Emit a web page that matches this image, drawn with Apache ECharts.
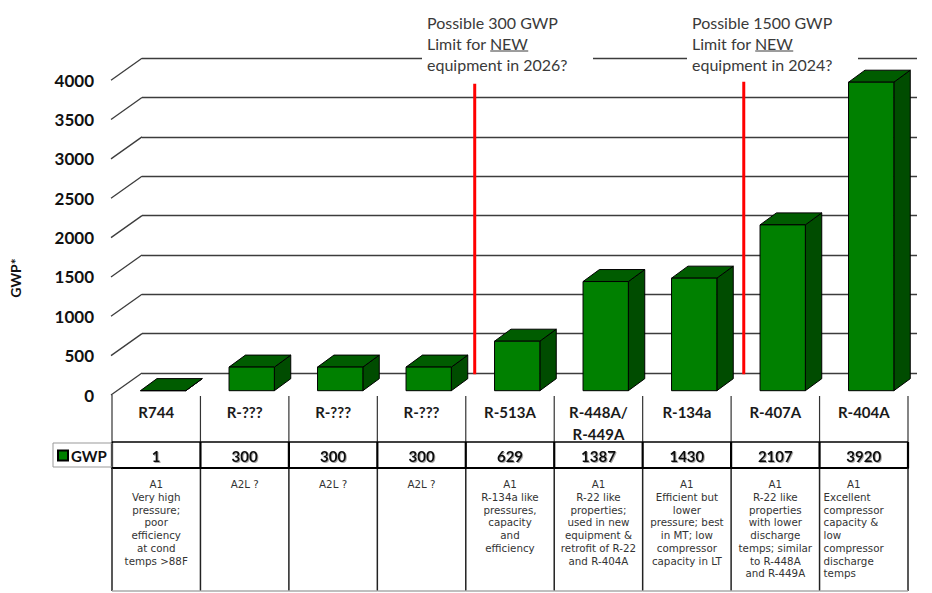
<!DOCTYPE html>
<html><head><meta charset="utf-8">
<script src="https://cdn.jsdelivr.net/npm/echarts@6/dist/echarts.min.js"></script>
<style>html,body{margin:0;padding:0;background:#fff}#c{width:932px;height:593px}</style>
</head><body><div id="c"></div>
<script>
// ---- data ----
const categories = ['R744','R-???','R-???','R-???','R-513A','R-448A/\nR-449A','R-134a','R-407A','R-404A'];
const gwpValues = [1, 300, 300, 300, 629, 1387, 1430, 2107, 3920];
const gwpLabels = ['1','300','300','300','629','1387','1430','2107','3920'];
const notes = [
  'A1\nVery high\npressure;\npoor\nefficiency\nat cond\ntemps >88F',
  'A2L ?',
  'A2L ?',
  'A2L ?',
  'A1\nR-134a like\npressures,\ncapacity\nand\nefficiency',
  'A1\nR-22 like\nproperties;\nused in new\nequipment &\nretrofit of R-22\nand R-404A',
  'A1\nEfficient but\nlower\npressure; best\nin MT; low\ncompressor\ncapacity in LT',
  'A1\nR-22 like\nproperties\nwith lower\ndischarge\ntemps; similar\nto R-448A\nand R-449A',
  'A1\nExcellent\ncompressor\ncapacity &\nlow\ncompressor\ndischarge\ntemps'
];
const yTicks = [0, 500, 1000, 1500, 2000, 2500, 3000, 3500, 4000];
const limitPositions = [3.52, 6.56];      // in category units (between bars)
const limitTopValues = [3900, 3925];
const limitTexts = [
  ['Possible 300 GWP', 'Limit for ', 'NEW', 'equipment in 2026?'],
  ['Possible 1500 GWP', 'Limit for ', 'NEW', 'equipment in 2024?']
];

// ---- styles ----
const GRID_C = '#3c3c3c';
const FRONT = '#008000', TOP = '#005c00', SIDE = '#004c00';
const DEPTH_X = 16.4, DEPTH_Y = -12;
const FLOOR_DX = 31, FLOOR_DY = -22;
const noteFont = 'DejaVu Sans';
const noteSize = 10.3;
const noteLH = 12.7;
const annFont = 'Lato';

const chart = echarts.init(document.getElementById('c'), null, {renderer: 'svg'});

function ln(x1, y1, x2, y2, w, c) {
  return {type: 'line', shape: {x1, y1, x2, y2}, style: {stroke: c, lineWidth: w}};
}

function renderDiag(params, api) {
  const p = api.coord([0, api.value(1)]);
  return ln(p[0], p[1], p[0] + FLOOR_DX, p[1] + FLOOR_DY, 1.3, GRID_C);
}

function renderBar(params, api) {
  const i = api.value(0), v = api.value(1);
  const b = api.coord([i, 0]), t = api.coord([i, v]);
  const w = api.size([1, 0])[0] * 0.512;
  const x0 = b[0] - w / 2, x1 = b[0] + w / 2, yb = b[1], yt = t[1];
  const st = (f) => ({fill: f, stroke: '#000', lineWidth: 1, lineJoin: 'round'});
  return {type: 'group', children: [
    {type: 'polygon', shape: {points: [[x1, yt], [x1 + DEPTH_X, yt + DEPTH_Y], [x1 + DEPTH_X, yb + DEPTH_Y], [x1, yb]]}, style: st(SIDE)},
    {type: 'polygon', shape: {points: [[x0, yt], [x0 + DEPTH_X, yt + DEPTH_Y], [x1 + DEPTH_X, yt + DEPTH_Y], [x1, yt]]}, style: st(TOP)},
    {type: 'rect', shape: {x: x0, y: yt, width: w, height: Math.max(yb - yt, 0.1)}, style: st(FRONT)}
  ]};
}

function renderLimit(params, api) {
  const pos = api.value(0), top = api.value(1);
  const base = Math.floor(pos);
  const bw = api.size([1, 0])[0];
  const x = api.coord([base, 0])[0] + (pos - base) * bw;
  const y0 = api.coord([base, 210])[1], y1 = api.coord([base, top])[1];
  return ln(x, y0, x, y1, 3, '#ff0000');
}

function renderTable(params, api) {
  const i = api.value(0);
  const cs = params.coordSys;
  const xc = api.coord([i, 0])[0];
  const bw = api.size([1, 0])[0];
  const xl = xc - bw / 2, xr = xc + bw / 2;
  const top = cs.y;
  const yCat = top + 47, yG = top + 73, yN = top + 196;
  const ch = [];
  // category row
  if (i === 0) ch.push(ln(xl, top, xl, yCat, 1.2, '#333'));
  ch.push(ln(xr, top + 1, xr, yCat, 1.2, '#333'));
  ch.push({type: 'text', style: {text: categories[i], x: xc, y: top + 5.5, align: 'center', verticalAlign: 'top',
    fontFamily: 'Lato', fontWeight: 'bold', fontSize: 15, lineHeight: 22, fill: '#1a1a1a'}});
  // GWP row
  ch.push(ln(xl, yCat, xr, yCat, 1.4, '#000'));
  ch.push(ln(xl - 1, yG, xr + 1, yG, 2.2, '#000'));
  if (i === 0) ch.push(ln(xl, yCat, xl, yG, 2.2, '#000'));
  ch.push(ln(xr, yCat, xr, yG, 2.2, '#000'));
  ch.push({type: 'text', style: {text: gwpLabels[i], x: xc, y: (yCat + yG) / 2 + 1, align: 'center', verticalAlign: 'middle',
    fontFamily: 'Lato', fontWeight: 'bold', fontSize: 15, fill: '#111',
    textShadowColor: 'rgba(0,0,0,0.35)', textShadowOffsetX: 1, textShadowOffsetY: 1, textShadowBlur: 1}});
  // notes row
  if (i === 0) ch.push(ln(xl, yG, xl, yN, 1.5, '#222'));
  ch.push(ln(xr, yG, xr, yN, 1.5, '#222'));
  ch.push(ln(xl, yN, xr, yN, 1.5, '#aaa'));
  const last = i === categories.length - 1;
  const ns = {fontFamily: noteFont, fontSize: noteSize, lineHeight: noteLH, fill: '#333', verticalAlign: 'top'};
  if (last) {
    const parts = notes[i].split('\n');
    ch.push({type: 'text', style: Object.assign({text: parts[0], x: xc - 10, y: yG + 10, align: 'center'}, ns)});
    ch.push({type: 'text', style: Object.assign({text: parts.slice(1).join('\n'), x: xl + 4, y: yG + 10 + noteLH, align: 'left'}, ns)});
  } else {
    ch.push({type: 'text', style: Object.assign({text: notes[i], x: xc, y: yG + 10, align: 'center'}, ns)});
  }
  return {type: 'group', children: ch};
}

// annotation graphics
const mctx = document.createElement('canvas').getContext('2d');
mctx.font = '16px ' + annFont;
const annX = [427, 692];
const annGraphics = [];
limitTexts.forEach((t, k) => {
  const x = annX[k];
  annGraphics.push({type: 'rect', shape: {x: x - 5, y: 52, width: 171, height: 12}, style: {fill: '#fff'}, z: 100});
  annGraphics.push({type: 'text', x: x, y: 12.5, z: 101, style: {
    text: t[0] + '\n' + t[1] + t[2] + '\n' + t[3], fontFamily: annFont, fontSize: 16, lineHeight: 20.7, fill: '#3a3a3a',
    align: 'left', verticalAlign: 'top'}});
  const u0 = x + mctx.measureText(t[1]).width;
  const uw = mctx.measureText(t[2]).width;
  annGraphics.push({type: 'line', z: 101, shape: {x1: u0, y1: 51, x2: u0 + uw, y2: 51}, style: {stroke: '#3a3a3a', lineWidth: 1}});
});
annGraphics.push({type: 'text', x: 15, y: 278, rotation: Math.PI / 2, z: 101, style: {
  text: 'GWP*', fontFamily: 'Lato', fontWeight: 'bold', fontSize: 14, fill: '#111', align: 'center', verticalAlign: 'middle'}});
annGraphics.push({type: 'rect', z: 99, shape: {x: 53, y: 443, width: 59, height: 24}, style: {fill: 'none', stroke: '#999', lineWidth: 1}});

const option = {
  animation: false,
  backgroundColor: '#fff',
  legend: {
    data: [{name: 'GWP', icon: 'rect'}],
    left: 57, top: 448, padding: 0, itemWidth: 10, itemHeight: 10, itemGap: 0,
    textStyle: {fontFamily: 'Lato', fontWeight: 'bold', fontSize: 15, color: '#111', padding: [0, 0, 0, -2]},
    selectedMode: false
  },
  grid: [
    {left: 142, right: 15, top: 58.2, height: 314.8},
    {left: 111, width: 31, top: 80.2, height: 314.8},
    {left: 118.95, width: 796.5, top: 75.9, height: 314.8},
    {left: 112, width: 796, top: 395, height: 197}
  ],
  xAxis: [
    {gridIndex: 0, type: 'value', min: 0, max: 1, show: false},
    {gridIndex: 1, type: 'value', min: 0, max: 1, show: false},
    {gridIndex: 2, type: 'category', data: categories, show: false},
    {gridIndex: 3, type: 'category', data: categories, show: false}
  ],
  yAxis: [
    {gridIndex: 0, type: 'value', min: 0, max: 4000, interval: 500, axisLine: {show: false}, axisTick: {show: false},
      axisLabel: {show: false}, splitLine: {show: true, lineStyle: {color: GRID_C, width: 1.3}}},
    {gridIndex: 1, type: 'value', min: 0, max: 4000, interval: 500, axisLine: {show: false}, axisTick: {show: false},
      splitLine: {show: false},
      axisLabel: {show: true, margin: 17, fontFamily: 'Lato', fontWeight: 'bold', fontSize: 17, color: '#111',
        padding: [3, 0, 0, 0], formatter: (v) => String(v)}},
    {gridIndex: 2, type: 'value', min: 0, max: 4000, show: false},
    {gridIndex: 3, type: 'value', min: 0, max: 1, show: false}
  ],
  graphic: annGraphics,
  series: [
    {type: 'custom', name: 'diag', xAxisIndex: 1, yAxisIndex: 1, silent: true, z: 1,
      data: yTicks.map(v => [0, v]), renderItem: renderDiag},
    {type: 'custom', name: 'GWP', xAxisIndex: 2, yAxisIndex: 2, z: 3,
      itemStyle: {color: FRONT, borderColor: '#000', borderWidth: 1},
      data: gwpValues.map((v, i) => [i, v]), encode: {x: 0, y: 1}, renderItem: renderBar},
    {type: 'custom', name: 'limits', xAxisIndex: 2, yAxisIndex: 2, silent: true, z: 4,
      data: limitPositions.map((p, k) => [p, limitTopValues[k]]), renderItem: renderLimit},
    {type: 'custom', name: 'table', xAxisIndex: 3, yAxisIndex: 3, silent: true, z: 5,
      data: categories.map((c, i) => [i, 0]), renderItem: renderTable}
  ]
};
chart.setOption(option);
</script>
</body></html>
